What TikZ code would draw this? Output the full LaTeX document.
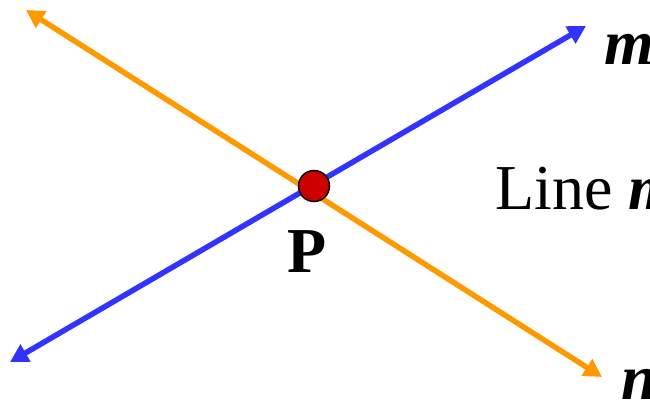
\documentclass[tikz,border=0pt]{standalone}
\usepackage{fontspec}
\setmainfont{Liberation Serif}
\usetikzlibrary{arrows.meta}
\definecolor{lineblue}{HTML}{3333FF}
\definecolor{lineorange}{HTML}{FF9900}
\definecolor{dotred}{HTML}{CC0000}

\begin{document}
\begin{tikzpicture}[
  x=1pt, y=-1pt,
  lin/.style={line width=5.5pt,
              {Triangle[length=18pt,width=19pt]}-{Triangle[length=18pt,width=19pt]}},
  dot/.style={circle, draw=black, line width=1.5pt, fill=dotred,
              minimum size=31pt, inner sep=0pt},
  lab/.style={font=\fontsize{64}{64}\selectfont, inner sep=0pt, anchor=base west},
]
\useasboundingbox (0,0) rectangle (650,402);
\clip (0,0) rectangle (650,402);
\coordinate (mlo) at (10,362);
\coordinate (mhi) at (586,26);
\coordinate (nhi) at (26,10);
\coordinate (nlo) at (602,377);
\draw[lin, lineorange] (nhi) -- (nlo);
\draw[lin, lineblue] (mlo) -- (mhi);
\node[dot] (p) at (314,186) {};
\node[lab] (plab) at (287,272) {\textbf{P}};
\node[lab] (mlab) at (604,64) {\textbf{\textit{m}}};
\node[lab] (nlab) at (621,399) {\textbf{\textit{n}}};
\node[lab] (txt) at (495,209) {Line \textbf{\textit{m}}};
\end{tikzpicture}
\end{document}
